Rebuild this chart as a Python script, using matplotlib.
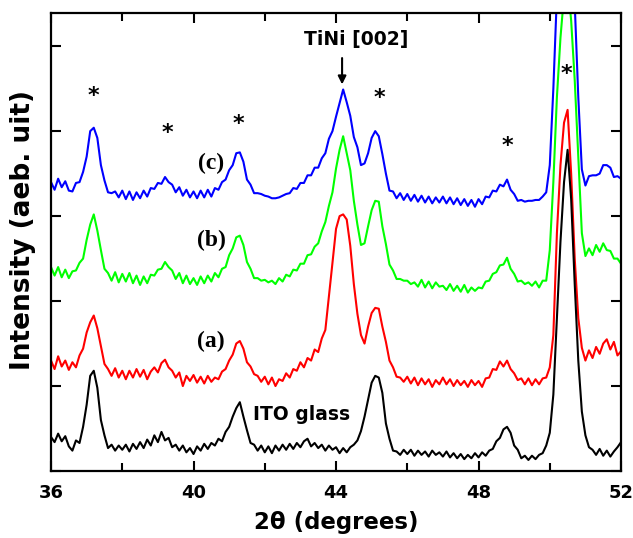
import numpy as np
import matplotlib
matplotlib.use("Agg")
import matplotlib.pyplot as plt
from matplotlib.ticker import MultipleLocator, NullFormatter

# 2-theta grid (degrees), 0.1 deg step from 36 to 52
two_theta = np.round(np.arange(36.0, 52.0001, 0.1), 1)

# ITO glass (black)
ito_glass = [
    0.40, 0.34, 0.44, 0.35, 0.41, 0.29, 0.24, 0.36, 0.33, 0.52,
    0.78, 1.12, 1.18, 0.98, 0.60, 0.42, 0.27, 0.31, 0.24, 0.30,
    0.25, 0.31, 0.23, 0.32, 0.26, 0.34, 0.27, 0.37, 0.30, 0.42,
    0.34, 0.46, 0.36, 0.39, 0.28, 0.31, 0.24, 0.30, 0.22, 0.27,
    0.20, 0.29, 0.24, 0.32, 0.26, 0.33, 0.30, 0.38, 0.35, 0.46,
    0.52, 0.64, 0.74, 0.81, 0.64, 0.48, 0.33, 0.31, 0.24, 0.30,
    0.22, 0.29, 0.21, 0.30, 0.24, 0.31, 0.25, 0.32, 0.26, 0.33,
    0.28, 0.35, 0.38, 0.29, 0.33, 0.27, 0.31, 0.24, 0.30, 0.25,
    0.28, 0.21, 0.27, 0.22, 0.28, 0.31, 0.36, 0.47, 0.64, 0.84,
    1.04, 1.12, 1.10, 0.92, 0.56, 0.38, 0.24, 0.23, 0.19, 0.25,
    0.20, 0.25, 0.18, 0.24, 0.19, 0.23, 0.17, 0.24, 0.19, 0.22,
    0.17, 0.23, 0.16, 0.21, 0.15, 0.20, 0.14, 0.19, 0.15, 0.21,
    0.16, 0.22, 0.18, 0.24, 0.26, 0.35, 0.39, 0.49, 0.52, 0.45,
    0.30, 0.25, 0.15, 0.18, 0.13, 0.18, 0.14, 0.19, 0.21, 0.30,
    0.45, 0.90, 1.80, 2.70, 3.40, 3.78, 3.20, 2.20, 1.30, 0.70,
    0.42, 0.28, 0.25, 0.19, 0.26, 0.18, 0.24, 0.17, 0.23, 0.28,
    0.34,
]

# sample (a) (red)
sample_a = [
    1.30, 1.20, 1.35, 1.23, 1.30, 1.19, 1.28, 1.22, 1.36, 1.44,
    1.63, 1.75, 1.83, 1.68, 1.47, 1.26, 1.20, 1.12, 1.21, 1.10,
    1.18, 1.08, 1.18, 1.10, 1.20, 1.11, 1.19, 1.08, 1.17, 1.22,
    1.16, 1.27, 1.31, 1.22, 1.18, 1.10, 1.16, 1.00, 1.12, 1.06,
    1.13, 1.04, 1.11, 1.03, 1.12, 1.05, 1.10, 1.08, 1.17, 1.20,
    1.30, 1.37, 1.50, 1.53, 1.44, 1.28, 1.23, 1.14, 1.12, 1.05,
    1.11, 1.02, 1.10, 1.00, 1.08, 1.06, 1.15, 1.10, 1.20, 1.18,
    1.28, 1.22, 1.33, 1.30, 1.43, 1.40, 1.56, 1.66, 2.05, 2.45,
    2.85, 3.00, 3.02, 2.96, 2.65, 2.20, 1.85, 1.60, 1.50, 1.70,
    1.86, 1.92, 1.91, 1.70, 1.52, 1.30, 1.22, 1.11, 1.10, 1.05,
    1.11, 1.03, 1.10, 1.01, 1.09, 1.02, 1.08, 0.99, 1.07, 1.02,
    1.10, 1.02, 1.08, 1.00, 1.07, 1.01, 1.06, 0.99, 1.07, 1.01,
    1.06, 0.99, 1.09, 1.10, 1.20, 1.19, 1.29, 1.23, 1.30, 1.20,
    1.15, 1.07, 1.09, 1.02, 1.09, 1.01, 1.08, 1.02, 1.09, 1.10,
    1.22, 1.60, 2.80, 3.60, 4.10, 4.25, 3.50, 2.50, 1.80, 1.45,
    1.30, 1.42, 1.33, 1.46, 1.38, 1.50, 1.55, 1.43, 1.52, 1.36,
    1.41,
]

# sample (b) (green)
sample_b = [
    2.40, 2.30, 2.40, 2.28, 2.37, 2.27, 2.35, 2.36, 2.45, 2.50,
    2.72, 2.90, 3.02, 2.83, 2.60, 2.38, 2.33, 2.24, 2.34, 2.22,
    2.32, 2.23, 2.33, 2.21, 2.30, 2.19, 2.29, 2.21, 2.31, 2.30,
    2.37, 2.38, 2.46, 2.40, 2.36, 2.26, 2.33, 2.21, 2.30, 2.20,
    2.27, 2.19, 2.29, 2.21, 2.30, 2.23, 2.33, 2.28, 2.38, 2.40,
    2.54, 2.62, 2.75, 2.77, 2.66, 2.46, 2.38, 2.27, 2.27, 2.24,
    2.25, 2.22, 2.24, 2.20, 2.27, 2.23, 2.31, 2.29, 2.37, 2.36,
    2.44, 2.44, 2.54, 2.55, 2.64, 2.68, 2.82, 2.93, 3.12, 3.28,
    3.56, 3.78, 3.94, 3.74, 3.54, 3.18, 2.90, 2.66, 2.68, 2.88,
    3.07, 3.18, 3.17, 2.88, 2.67, 2.43, 2.36, 2.26, 2.26, 2.24,
    2.24, 2.20, 2.22, 2.17, 2.25, 2.16, 2.23, 2.15, 2.22, 2.17,
    2.18, 2.13, 2.20, 2.12, 2.18, 2.11, 2.19, 2.10, 2.16, 2.12,
    2.16, 2.15, 2.23, 2.24, 2.32, 2.34, 2.42, 2.43, 2.51, 2.38,
    2.32, 2.23, 2.24, 2.20, 2.22, 2.18, 2.23, 2.16, 2.24, 2.24,
    2.60, 3.40, 4.40, 5.10, 5.60, 5.75, 5.30, 4.60, 3.70, 2.80,
    2.53, 2.62, 2.54, 2.66, 2.58, 2.68, 2.60, 2.59, 2.50, 2.50,
    2.44,
]

# sample (c) (blue)
sample_c = [
    3.40, 3.31, 3.44, 3.34, 3.41, 3.30, 3.29, 3.39, 3.40, 3.52,
    3.70, 4.00, 4.04, 3.92, 3.60, 3.42, 3.28, 3.27, 3.29, 3.22,
    3.30, 3.20, 3.29, 3.19, 3.28, 3.21, 3.30, 3.23, 3.33, 3.32,
    3.39, 3.38, 3.46, 3.40, 3.37, 3.28, 3.34, 3.24, 3.31, 3.22,
    3.29, 3.21, 3.30, 3.22, 3.31, 3.23, 3.33, 3.31, 3.40, 3.43,
    3.54, 3.60, 3.74, 3.75, 3.64, 3.43, 3.37, 3.27, 3.27, 3.26,
    3.24, 3.23, 3.21, 3.21, 3.22, 3.24, 3.26, 3.27, 3.33, 3.32,
    3.39, 3.39, 3.48, 3.48, 3.57, 3.57, 3.68, 3.74, 3.91, 4.00,
    4.17, 4.33, 4.49, 4.34, 4.18, 3.93, 3.81, 3.60, 3.62, 3.74,
    3.92, 4.00, 3.94, 3.73, 3.50, 3.30, 3.29, 3.21, 3.27, 3.19,
    3.26, 3.18, 3.25, 3.17, 3.24, 3.16, 3.23, 3.15, 3.22, 3.16,
    3.23, 3.15, 3.22, 3.14, 3.21, 3.13, 3.20, 3.12, 3.19, 3.11,
    3.20, 3.14, 3.23, 3.22, 3.30, 3.29, 3.37, 3.35, 3.43, 3.31,
    3.26, 3.18, 3.19, 3.17, 3.18, 3.18, 3.19, 3.19, 3.23, 3.28,
    3.60, 4.50, 5.60, 6.40, 6.90, 7.00, 6.60, 5.50, 4.40, 3.55,
    3.36, 3.47, 3.48, 3.48, 3.50, 3.60, 3.60, 3.57, 3.46, 3.47,
    3.44,
]

series = [
    (sample_c, "#0000ff"),
    (sample_b, "#00ff00"),
    (sample_a, "#ff0000"),
    (ito_glass, "#000000"),
]

sample_labels = ["(c)", "(b)", "(a)"]
xtick_values = [36, 40, 44, 48, 52]

fig = plt.figure(figsize=(6.33, 5.38), dpi=100)
ax = fig.add_axes([0.0806, 0.1245, 0.9005, 0.8513])

for ys, col in series:
    ax.plot(two_theta, ys, color=col, lw=1.5)

ax.set_xlim(36, 52)
ax.set_ylim(0, 5.39)
ax.xaxis.set_minor_locator(MultipleLocator(2))
ax.set_xticks(xtick_values)
ax.yaxis.set_major_locator(MultipleLocator(1))
ax.yaxis.set_major_formatter(NullFormatter())
ax.tick_params(which="both", direction="in", top=True, right=True, width=1.5)
ax.tick_params(which="major", length=7, pad=9.5, labelsize=13)
ax.tick_params(which="minor", length=6)
for lab in ax.get_xticklabels():
    lab.set_fontweight("bold")
for sp in ax.spines.values():
    sp.set_linewidth(1.6)

ax.set_xlabel("2θ (degrees)", fontsize=16.5, fontweight="bold", labelpad=6)
ax.set_ylabel("Intensity (aeb. uit)", fontsize=19, fontweight="bold")
ax.yaxis.set_label_coords(-0.026, 0.526)

# annotations
ax.text(44.56, 5.08, "TiNi [002]", fontsize=13.5, fontweight="bold",
        ha="center", va="center")
ax.annotate("", xy=(44.17, 4.55), xytext=(44.17, 4.86),
            arrowprops=dict(arrowstyle="-|>", color="black", lw=1.5,
                            mutation_scale=12, shrinkA=0, shrinkB=0))

star_x = [37.18, 39.28, 41.25, 45.21, 48.8, 50.48]
star_y = [4.41, 3.98, 4.08, 4.39, 3.83, 4.67]
for sx, sy in zip(star_x, star_y):
    ax.text(sx, sy, "*", fontsize=16, fontweight="bold", ha="center", va="center")

label_x = [40.48, 40.51, 40.48]
label_y = [3.62, 2.71, 1.53]
for lx, ly, t in zip(label_x, label_y, sample_labels):
    ax.text(lx, ly, t, fontsize=17, fontweight="bold", family="Liberation Serif",
            ha="center", va="center")

ax.text(41.67, 0.66, "ITO glass", fontsize=13.5, fontweight="bold",
        ha="left", va="center")

fig.savefig("out.png", dpi=100)
